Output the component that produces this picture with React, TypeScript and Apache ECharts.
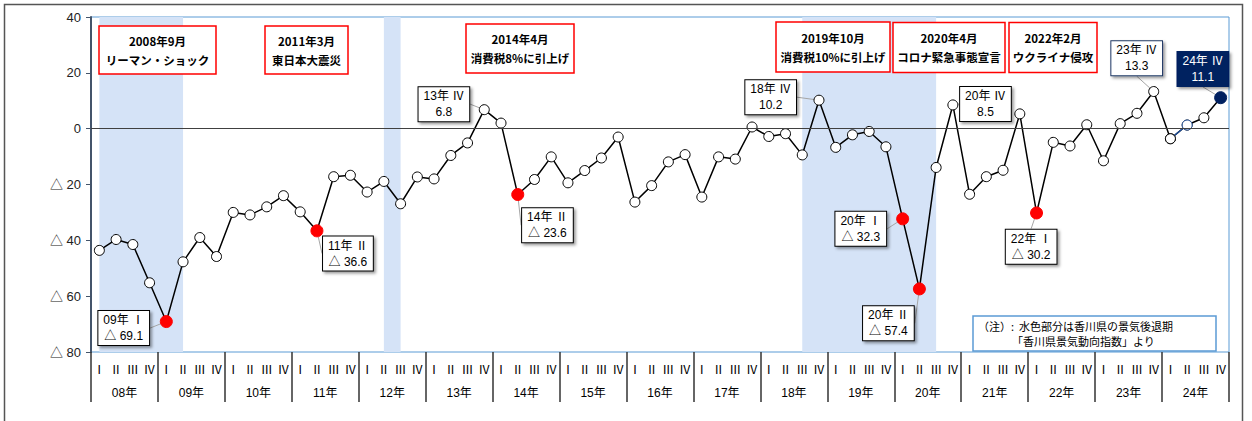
import React, { useEffect, useRef } from "react";
import * as echarts from "echarts";

const YEARS = ["08", "09", "10", "11", "12", "13", "14", "15", "16", "17", "18", "19", "20", "21", "22", "23", "24"];
const QUARTERS = ["Ⅰ", "Ⅱ", "Ⅲ", "Ⅳ"];
const CATEGORIES = YEARS.flatMap((y) => QUARTERS.map((q) => `${y}-${q}`));

const VALUES = [
  -43.6, -39.7, -41.5, -55.2,
  -69.1, -47.7, -39.0, -45.8,
  -30.0, -30.9, -28.0, -24.0,
  -29.8, -36.6, -17.2, -16.7,
  -22.7, -18.9, -26.9, -17.3,
  -18.0, -9.6, -5.1, 6.8,
  2.0, -23.6, -18.2, -10.1,
  -19.4, -15.0, -10.5, -3.0,
  -26.3, -20.4, -11.9, -9.3,
  -24.5, -10.1, -10.9, 0.6,
  -2.8, -1.8, -9.4, 10.2,
  -6.7, -2.2, -1.0, -6.5,
  -32.3, -57.4, -13.9, 8.5,
  -23.5, -17.2, -14.9, 5.3,
  -30.2, -4.9, -6.2, 1.4,
  -11.5, 1.8, 5.5, 13.3,
  -3.6, 1.3, 3.9, 11.1,
];

const RED_POINTS = ["09-Ⅰ", "11-Ⅱ", "14-Ⅱ", "20-Ⅰ", "20-Ⅱ", "22-Ⅰ"];
const LATEST_POINT = "24-Ⅳ";
const BLUE_SEGMENT = ["24-Ⅰ", "24-Ⅱ"];

const RECESSIONS = [
  ["08-Ⅰ", "09-Ⅱ"],
  ["12-Ⅱ", "12-Ⅲ"],
  ["18-Ⅲ", "20-Ⅲ"],
];

const LABELLED = ["09-Ⅰ", "11-Ⅱ", "13-Ⅳ", "14-Ⅱ", "18-Ⅳ", "20-Ⅰ", "20-Ⅱ", "20-Ⅳ", "22-Ⅰ", "23-Ⅳ", "24-Ⅳ"];

const LABEL_OFFSETS: Record<string, [number, number]> = {
  "09-Ⅰ": [-42.6, 6.5],
  "11-Ⅱ": [31, 22.7],
  "13-Ⅳ": [-40.4, -5.5],
  "14-Ⅱ": [29.7, 30.7],
  "18-Ⅳ": [-48.3, -3],
  "20-Ⅰ": [-41.9, 10],
  "20-Ⅱ": [-31, 34.4],
  "20-Ⅳ": [32.6, -1],
  "22-Ⅰ": [-5.4, 33.7],
  "23-Ⅳ": [-17, -33.4],
  "24-Ⅳ": [-17.8, -28.8],
};

const EVENTS = [
  { l1: "2008年9月", l2: "リーマン・ショック" },
  { l1: "2011年3月", l2: "東日本大震災" },
  { l1: "2014年4月", l2: "消費税8%に引上げ" },
  { l1: "2019年10月", l2: "消費税10%に引上げ" },
  { l1: "2020年4月", l2: "コロナ緊急事態宣言" },
  { l1: "2022年2月", l2: "ウクライナ侵攻" },
];
const EVENT_BOXES = [
  [99, 26, 117, 48],
  [265, 26, 83, 48],
  [466, 24, 108, 49],
  [776, 22, 114, 50],
  [893, 22.5, 112, 50],
  [1009, 22.5, 88, 50],
];

const NOTE_LINE1 = "（注）:  水色部分は香川県の景気後退期";
const NOTE_LINE2 = "「香川県景気動向指数」より";

const FONT = "'Liberation Sans', 'Noto Sans CJK JP', sans-serif";
const JFONT = "'Noto Sans CJK JP', sans-serif";

const fmt = (v: number) => (v < 0 ? `△ ${Math.abs(v).toFixed(1)}` : v.toFixed(1));

export default function App() {
  const ref = useRef<HTMLDivElement>(null);
  useEffect(() => {
    if (!ref.current) return;
    const chart = echarts.init(ref.current, undefined, { renderer: "svg" });

    const data = VALUES.map((v, i) => {
      const cat = CATEGORIES[i];
      const [y, q] = cat.split("-");
      const isRed = RED_POINTS.includes(cat);
      const isLatest = cat === LATEST_POINT;
      const hasLabel = LABELLED.includes(cat);
      const itemStyle = isRed
        ? { color: "#ff0000", borderColor: "#ff0000", borderWidth: 1 }
        : isLatest
        ? { color: "#002060", borderColor: "#002060", borderWidth: 1 }
        : { color: "#ffffff", borderColor: "#000000", borderWidth: 1 };
      const labelBase: any = {
        show: true,
        position: "inside",
        formatter: `${y}年 ${q}\n${fmt(v)}`,
        fontFamily: FONT,
        fontSize: 12,
        lineHeight: 16,
        color: "#000",
        align: "center",
        backgroundColor: "#fff",
        borderColor: "#000",
        borderWidth: 1,
        padding: [1, 5],
        shadowColor: "rgba(0,0,0,0.4)",
        shadowBlur: 3,
        shadowOffsetX: 2,
        shadowOffsetY: 2,
      };
      if (cat === "23-Ⅳ") labelBase.borderColor = "#1f3864";
      if (isLatest) {
        labelBase.backgroundColor = "#002060";
        labelBase.borderColor = "#002060";
        labelBase.color = "#fff";
      }
      return {
        value: v,
        symbolSize: isRed || isLatest ? 12 : 10,
        itemStyle,
        label: hasLabel ? labelBase : { show: false },
        labelLine: { show: hasLabel, lineStyle: { color: "#a6a6a6", width: 1 } },
      };
    });

    const blueData = VALUES.map((v, i) => {
      const cat = CATEGORIES[i];
      if (!BLUE_SEGMENT.includes(cat)) return "-";
      return {
        value: v,
        itemStyle:
          cat === BLUE_SEGMENT[1]
            ? { color: "#fff", borderColor: "#1f4e9a", borderWidth: 1 }
            : { color: "#fff", borderColor: "#000", borderWidth: 1 },
      };
    });

    const graphics: any[] = [
      {
        type: "rect",
        shape: { x: 4.5, y: 4.5, width: 1238, height: 440 },
        style: { fill: "none", stroke: "#555", lineWidth: 1.5 },
        z: 100,
        silent: true,
      },
    ];
    EVENTS.forEach((e, i) => {
      const [x, y, w, h] = EVENT_BOXES[i];
      graphics.push({
        type: "rect",
        z: 50,
        shape: { x, y, width: w, height: h },
        style: { fill: "#fff", stroke: "#ff0000", lineWidth: 1.5 },
      });
      graphics.push({
        type: "text",
        z: 51,
        x: x + w / 2,
        y: y + h / 2,
        style: {
          text: `${e.l1}\n${e.l2}`,
          align: "center",
          verticalAlign: "middle",
          fontFamily: JFONT,
          fontWeight: "bold",
          fontSize: 11.5,
          lineHeight: 19,
          fill: "#000",
        },
      });
    });
    graphics.push({
      type: "rect",
      z: 50,
      shape: { x: 973, y: 316, width: 243, height: 35 },
      style: { fill: "#fff", stroke: "#5b9bd5", lineWidth: 1.5 },
    });
    graphics.push({
      type: "text",
      z: 51,
      x: 978,
      y: 326,
      style: { text: NOTE_LINE1, verticalAlign: "middle", fontFamily: JFONT, fontSize: 11, fill: "#000" },
    });
    graphics.push({
      type: "text",
      z: 51,
      x: 1012,
      y: 341,
      style: { text: NOTE_LINE2, verticalAlign: "middle", fontFamily: JFONT, fontSize: 11, fill: "#000" },
    });

    chart.setOption({
      animation: false,
      backgroundColor: "#fff",
      grid: {
        left: 91,
        right: 23,
        top: 17,
        bottom: 69,
        show: true,
        borderColor: "#5b9bd5",
        borderWidth: 1,
        backgroundColor: "#fff",
      },
      xAxis: [
        {
          type: "category",
          data: CATEGORIES,
          boundaryGap: true,
          position: "bottom",
          offset: 0,
          axisLine: { show: false },
          axisTick: { show: false },
          axisLabel: {
            interval: 0,
            margin: 10,
            fontSize: 12,
            color: "#000",
            fontFamily: JFONT,
            formatter: (v: string) => v.split("-")[1],
          },
          splitLine: { show: false },
        },
        {
          type: "category",
          data: YEARS.map((y) => `${y}年`),
          boundaryGap: true,
          position: "bottom",
          offset: 0,
          axisLine: { show: false },
          axisTick: { show: true, length: 50, interval: 0, lineStyle: { color: "#333", width: 1.5 } },
          axisLabel: { interval: 0, margin: 35, fontSize: 12, color: "#000", fontFamily: FONT },
          splitLine: { show: false },
        },
      ],
      yAxis: {
        type: "value",
        min: -80,
        max: 40,
        interval: 20,
        axisLine: { show: true, lineStyle: { color: "#44546a", width: 2 } },
        axisTick: { show: true, length: 5, lineStyle: { color: "#44546a", width: 1 } },
        splitLine: { show: false },
        axisLabel: {
          margin: 10,
          fontSize: 13,
          color: "#222",
          fontFamily: FONT,
          formatter: (v: number) => (v < 0 ? `△ ${-v}` : `${v}`),
        },
      },
      graphic: graphics,
      series: [
        {
          type: "line",
          xAxisIndex: 0,
          data,
          symbol: "circle",
          showSymbol: true,
          lineStyle: { color: "#000", width: 1.5 },
          labelLine: { show: true, lineStyle: { color: "#a6a6a6", width: 1 } },
          labelLayout: (params: any) => {
            const cat = CATEGORIES[params.dataIndex];
            const off = LABEL_OFFSETS[cat];
            if (!off || !params.rect) return {};
            const cx = params.rect.x + params.rect.width / 2;
            const cy = params.rect.y + params.rect.height / 2;
            return { x: cx + off[0], y: cy + off[1], align: "center", verticalAlign: "middle" };
          },
          markArea: {
            silent: true,
            itemStyle: { color: "#d5e3f7" },
            data: RECESSIONS.map(([a, b]) => [{ xAxis: a }, { xAxis: b }]),
          },
          markLine: {
            silent: true,
            symbol: ["none", "none"],
            label: { show: false },
            lineStyle: { color: "#404040", width: 1, type: "solid" },
            data: [{ yAxis: 0 }],
          },
          z: 3,
        },
        {
          type: "line",
          xAxisIndex: 0,
          data: blueData,
          symbol: "circle",
          symbolSize: 10,
          showSymbol: true,
          lineStyle: { color: "#1f4e9a", width: 1.5 },
          z: 4,
        },
      ],
    });
    return () => chart.dispose();
  }, []);
  return (
    <div
      ref={ref}
      style={{ position: "fixed", left: 0, top: 0, width: 1252, height: 421, background: "#fff" }}
    />
  );
}
